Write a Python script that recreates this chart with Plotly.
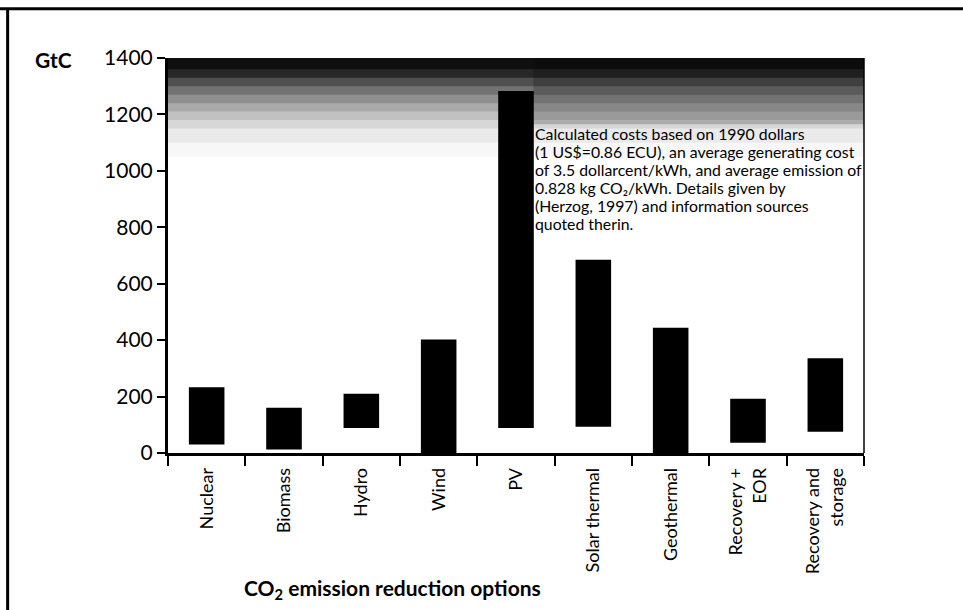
import plotly.graph_objects as go

categories = ["Nuclear", "Biomass", "Hydro", "Wind", "PV", "Solar thermal",
              "Geothermal", "Recovery +<br>EOR", "Recovery and<br>storage"]
low_values = [30, 12, 89, 0, 89, 93, 0, 36, 75]
high_values = [233, 160, 210, 402, 1283, 685, 444, 192, 336]
y_ticks = [0, 200, 400, 600, 800, 1000, 1200, 1400]

note_lines = [
    "Calculated costs based on 1990 dollars",
    "(1 US$=0.86 ECU), an average generating cost",
    "of 3.5 dollarcent/kWh, and average emission of",
    "0.828 kg CO₂/kWh. Details given by",
    "(Herzog, 1997) and information sources",
    "quoted therin.",
]

spans = [h - l for h, l in zip(high_values, low_values)]

FONT = "Lato, 'Open Sans', sans-serif"

fig = go.Figure()
fig.add_trace(go.Bar(
    x=categories, y=spans, base=low_values, width=0.46,
    marker=dict(color="black", line=dict(width=0)),
    hoverinfo="skip", showlegend=False,
))

shapes = []
# dark noisy band at top of the plot area (approximated by stacked translucent layers)
for y0, op in [(1050, 0.03), (1100, 0.05), (1150, 0.08), (1180, 0.10), (1210, 0.12),
               (1240, 0.15), (1270, 0.2), (1300, 0.3), (1330, 0.5), (1360, 0.6)]:
    shapes.append(dict(type="rect", xref="paper", yref="y", x0=0, x1=1, y0=y0, y1=1400,
                       fillcolor="black", opacity=op, line=dict(width=0), layer="below"))
# slightly darker band behind the note
shapes.append(dict(type="rect", xref="paper", yref="y", x0=0.525, x1=1, y0=1165, y1=1400,
                   fillcolor="black", opacity=0.2, line=dict(width=0), layer="below"))
# right edge of the plot area
shapes.append(dict(type="line", xref="paper", yref="paper", x0=1, x1=1, y0=0, y1=1,
                   line=dict(color="black", width=1.5)))
# outer frame lines (top and left)
shapes.append(dict(type="line", xref="paper", yref="paper", x0=-0.245, x1=1.145, y0=1.125, y1=1.125,
                   line=dict(color="black", width=3)))
shapes.append(dict(type="line", xref="paper", yref="paper", x0=-0.2304, x1=-0.2304, y0=-0.40, y1=1.125,
                   line=dict(color="black", width=3)))

annotations = []
line_y0 = 1132
line_step = 63.5
for i, txt in enumerate(note_lines):
    annotations.append(dict(text=txt, xref="paper", yref="y", x=0.526, y=line_y0 - i * line_step,
                            xanchor="left", yanchor="middle", align="left", showarrow=False,
                            borderpad=0, font=dict(family=FONT, size=15.8, color="black")))
annotations += [
    dict(text="<b>GtC</b>", xref="paper", yref="paper", x=-0.194, y=0.995, xanchor="left",
         yanchor="middle", showarrow=False, font=dict(family=FONT, size=21, color="black")),
    dict(text="<b>CO<sub>2</sub> emission reduction options</b>", xref="paper", yref="paper",
         x=0.323, y=-0.345, xanchor="center", yanchor="middle", showarrow=False,
         font=dict(family=FONT, size=21, color="black")),
]

fig.update_layout(
    width=963, height=610,
    margin=dict(l=167.5, r=99, t=57.5, b=157.3),
    paper_bgcolor="white", plot_bgcolor="white",
    font=dict(family=FONT, color="black"),
    bargap=0.54,
    shapes=shapes,
    annotations=annotations,
    xaxis=dict(
        type="category", tickson="boundaries", ticks="outside", ticklen=10, tickwidth=2,
        tickcolor="black", showline=True, linecolor="black", linewidth=2.5,
        tickangle=-90, tickfont=dict(family=FONT, size=18, color="black"),
        ticklabelstandoff=5,
        showgrid=False, zeroline=False, fixedrange=True,
    ),
    yaxis=dict(
        range=[0, 1400], tickvals=y_ticks, ticks="outside", ticklen=8, tickwidth=1.5,
        tickcolor="black", showline=True, linecolor="black", linewidth=3,
        tickfont=dict(family=FONT, size=21, color="black"),
        showgrid=False, zeroline=False, fixedrange=True,
    ),
)

fig.write_html("out.html", config={"displayModeBar": False},
               post_script="document.body.style.margin='0';document.body.style.padding='0';")
